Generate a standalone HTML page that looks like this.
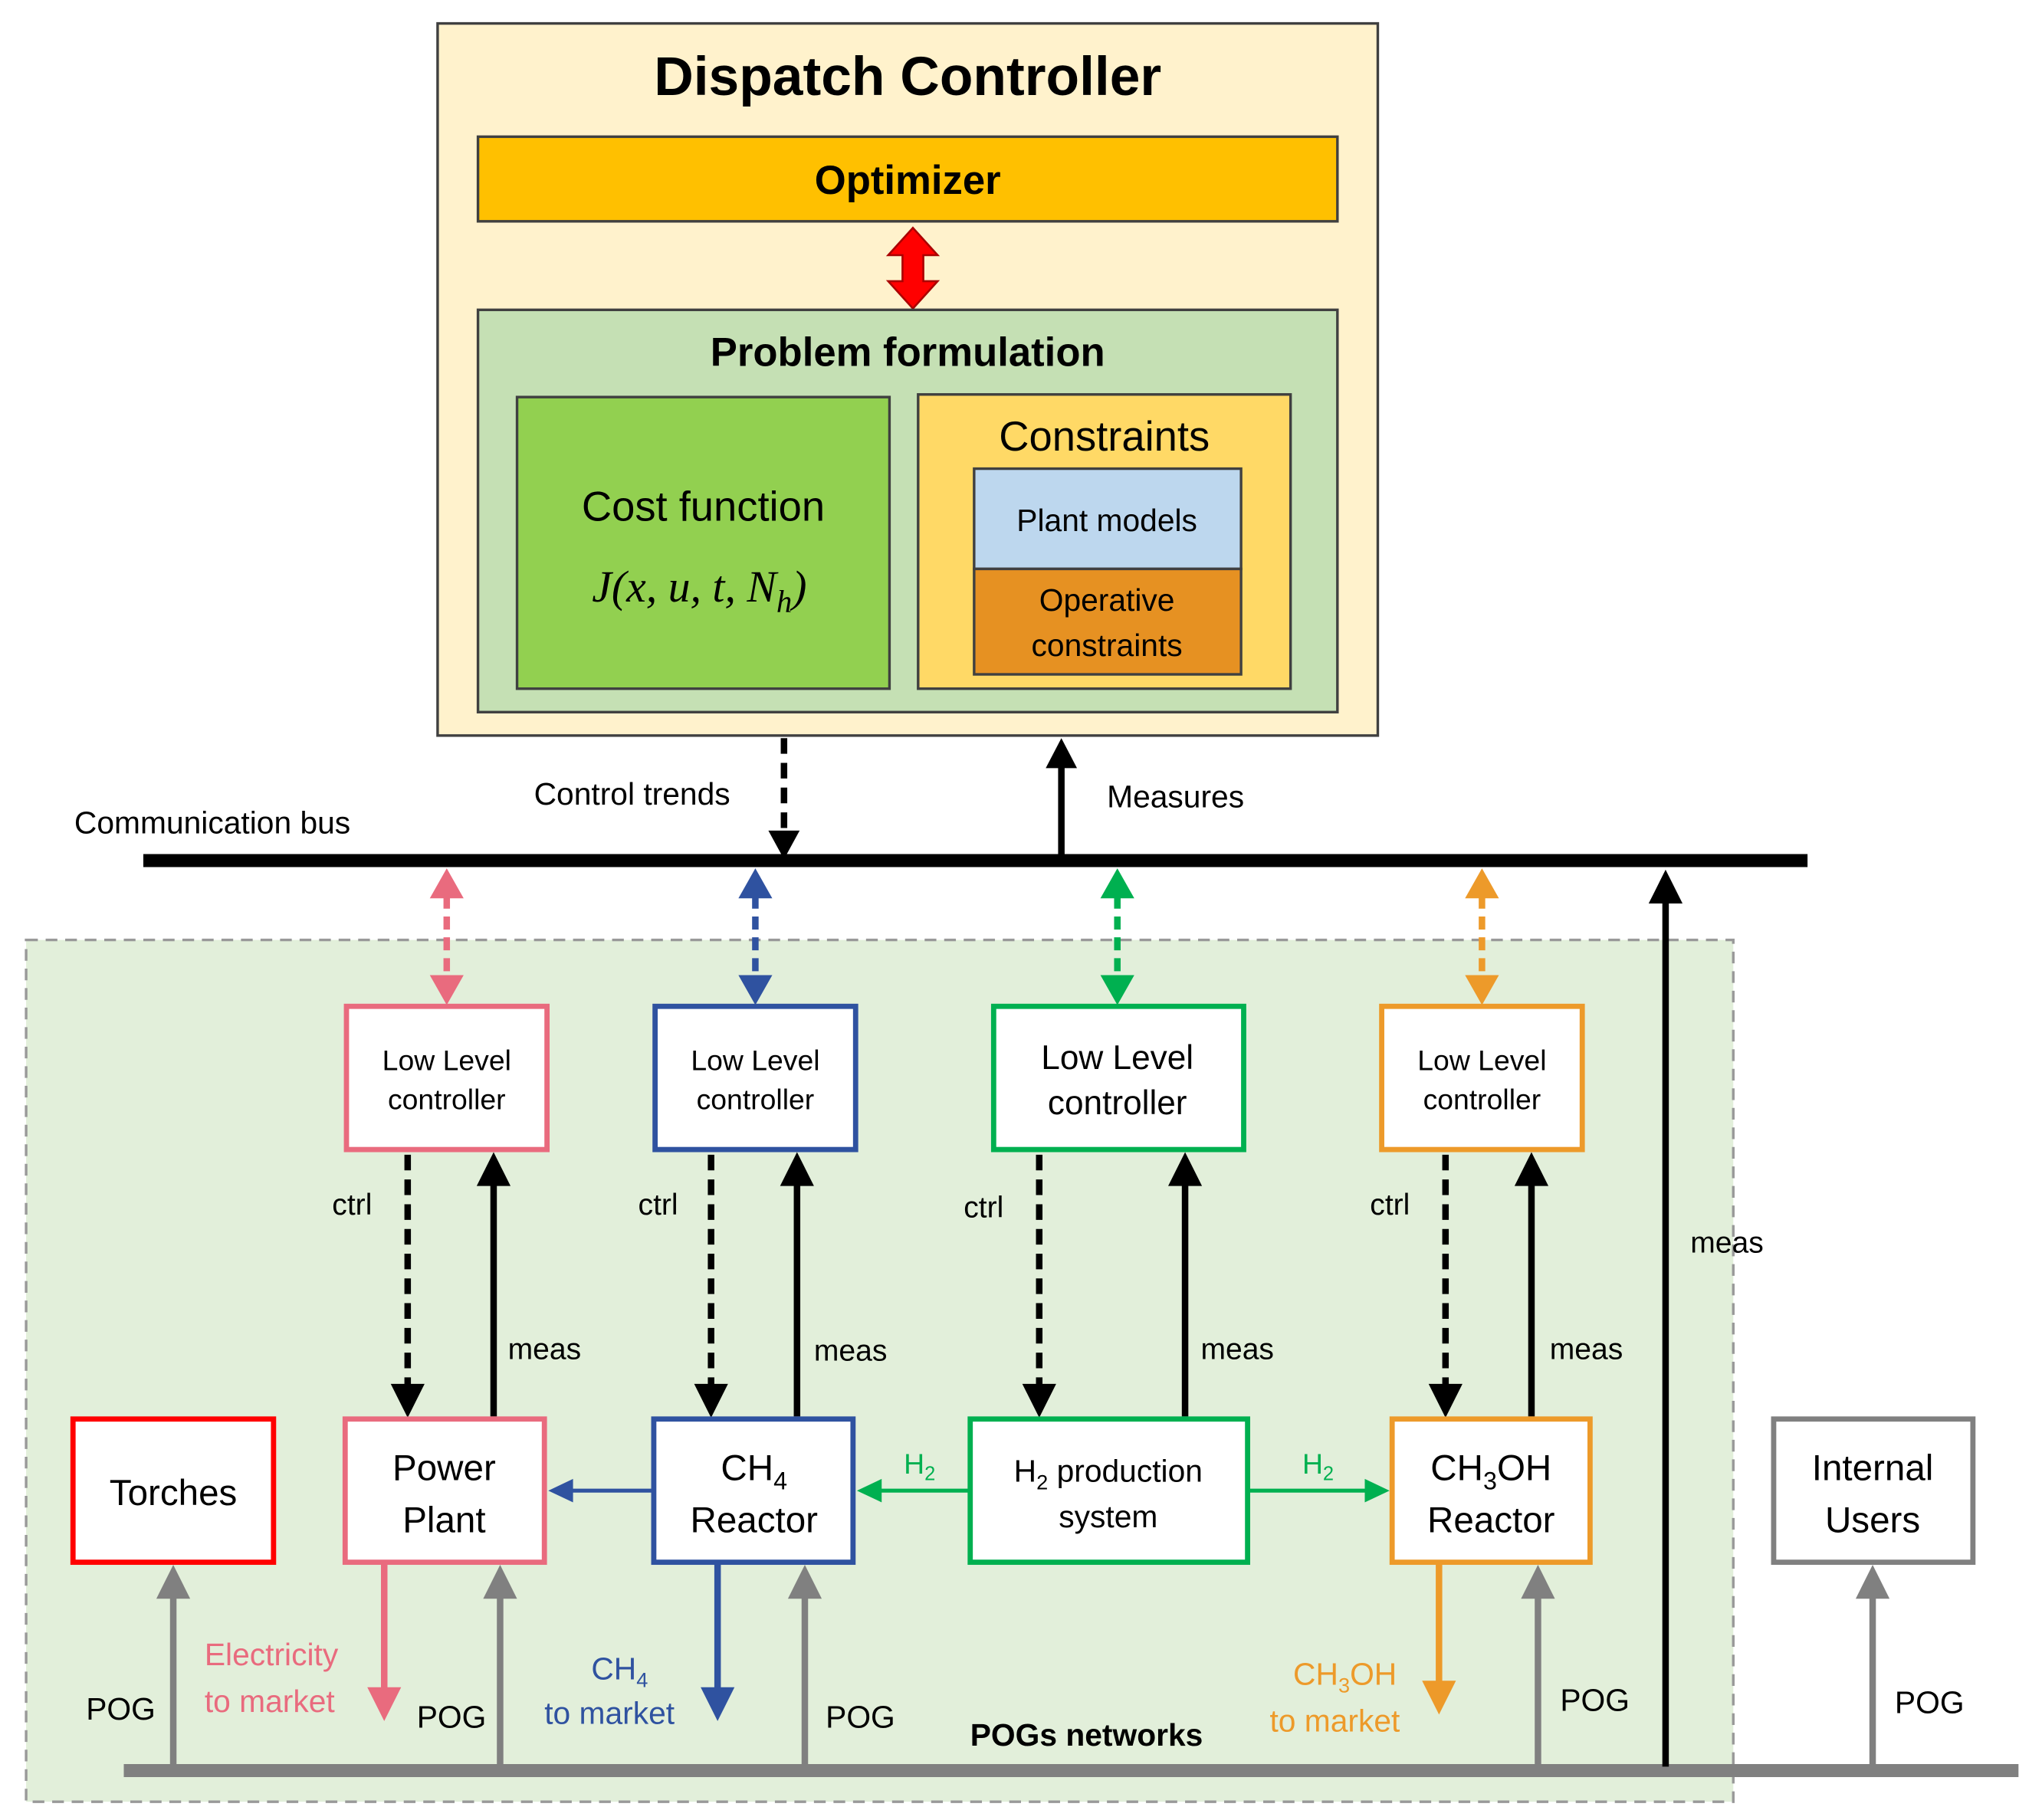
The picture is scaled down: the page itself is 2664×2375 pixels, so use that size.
<!DOCTYPE html>
<html><head><meta charset="utf-8"><style>html,body{margin:0;padding:0;background:#fff}svg{display:block}text{font-family:"Liberation Sans",sans-serif}</style></head>
<body>
<svg width="2664" height="2375" viewBox="0 0 1568 1398" xmlns="http://www.w3.org/2000/svg">
<defs>
<marker id="ak" markerWidth="4" markerHeight="4" refX="2" refY="2" orient="auto" markerUnits="strokeWidth"><path d="M0,0.3 L4,2 L0,3.7z" fill="#000"/></marker>
</defs>
<rect width="1568" height="1398" fill="#fff"/>
<!-- Dispatch controller -->
<rect x="336" y="18" width="722" height="547" fill="#fff2cc" stroke="#404040" stroke-width="2"/>
<text x="697" y="73" font-size="42" font-weight="bold" text-anchor="middle">Dispatch Controller</text>
<rect x="367" y="105" width="660" height="65" fill="#ffc000" stroke="#404040" stroke-width="2"/>
<text x="697" y="149" font-size="31" font-weight="bold" text-anchor="middle">Optimizer</text>
<path d="M701,175 L720,196 L709,196 L709,216 L720,216 L701,237 L682,216 L693,216 L693,196 L682,196 Z" fill="#ff0000" stroke="#a00" stroke-width="1.5"/>
<rect x="367" y="238" width="660" height="309" fill="#c5e0b4" stroke="#404040" stroke-width="2"/>
<text x="697" y="281" font-size="31" font-weight="bold" text-anchor="middle">Problem formulation</text>
<rect x="397" y="305" width="286" height="224" fill="#92d050" stroke="#404040" stroke-width="2"/>
<text x="540" y="400" font-size="32" text-anchor="middle">Cost function</text>
<text x="537" y="462" font-size="34" font-style="italic" text-anchor="middle" font-family="Liberation Serif,serif" style="font-family:'Liberation Serif',serif">J(x, u, t, N<tspan font-size="24" dy="8">h</tspan><tspan dy="-8">)</tspan></text>
<rect x="705" y="303" width="286" height="226" fill="#ffd966" stroke="#404040" stroke-width="2"/>
<text x="848" y="346" font-size="32" text-anchor="middle">Constraints</text>
<rect x="748" y="360" width="205" height="77" fill="#bdd7ee" stroke="#404040" stroke-width="2"/>
<text x="850" y="408" font-size="24" text-anchor="middle">Plant models</text>
<rect x="748" y="437" width="205" height="81" fill="#e69122" stroke="#404040" stroke-width="2"/>
<text x="850" y="469" font-size="24" text-anchor="middle">Operative</text>
<text x="850" y="504" font-size="24" text-anchor="middle">constraints</text>
<!-- bus arrows -->
<line x1="602" y1="567" x2="602" y2="640" stroke="#000" stroke-width="5" stroke-dasharray="12,7"/>
<path d="M590,638 L614,638 L602,660 Z" fill="#000"/>
<line x1="815" y1="660" x2="815" y2="588" stroke="#000" stroke-width="5"/>
<path d="M803,590 L827,590 L815,567 Z" fill="#000"/>
<text x="410" y="618" font-size="24">Control trends</text>
<text x="850" y="620" font-size="24">Measures</text>
<text x="57" y="640" font-size="24">Communication bus</text>
<!-- region -->
<rect x="20" y="722" width="1311" height="662" fill="#e2efda" stroke="#999" stroke-width="2" stroke-dasharray="9,6"/>
<line x1="110" y1="661" x2="1388" y2="661" stroke="#000" stroke-width="10"/>
<!-- colored double arrows -->
<g stroke-width="5" stroke-dasharray="10,6">
<line x1="343" y1="688" x2="343" y2="750" stroke="#e96b7e"/>
<line x1="580" y1="688" x2="580" y2="750" stroke="#2f52a0"/>
<line x1="858" y1="688" x2="858" y2="750" stroke="#00b050"/>
<line x1="1138" y1="688" x2="1138" y2="750" stroke="#ed9a2a"/>
</g>
<path d="M343,667 L356,690 L330,690Z M343,772 L356,749 L330,749Z" fill="#e96b7e"/>
<path d="M580,667 L593,690 L567,690Z M580,772 L593,749 L567,749Z" fill="#2f52a0"/>
<path d="M858,667 L871,690 L845,690Z M858,772 L871,749 L845,749Z" fill="#00b050"/>
<path d="M1138,667 L1151,690 L1125,690Z M1138,772 L1151,749 L1125,749Z" fill="#ed9a2a"/>
<!-- low level boxes -->
<g fill="#fff" stroke-width="4">
<rect x="266" y="773" width="154" height="110" stroke="#e96b7e"/>
<rect x="503" y="773" width="154" height="110" stroke="#2f52a0"/>
<rect x="763" y="773" width="192" height="110" stroke="#00b050"/>
<rect x="1061" y="773" width="154" height="110" stroke="#ed9a2a"/>
</g>
<g font-size="22" text-anchor="middle">
<text x="343" y="822">Low Level</text><text x="343" y="852">controller</text>
<text x="580" y="822">Low Level</text><text x="580" y="852">controller</text>
<text x="858" y="821" font-size="26">Low Level</text><text x="858" y="856" font-size="26">controller</text>
<text x="1138" y="822">Low Level</text><text x="1138" y="852">controller</text>
</g>
<!-- ctrl / meas arrows -->
<g stroke="#000" stroke-width="5">
<line x1="313" y1="887" x2="313" y2="1065" stroke-dasharray="12,7"/>
<line x1="546" y1="887" x2="546" y2="1065" stroke-dasharray="12,7"/>
<line x1="798" y1="887" x2="798" y2="1065" stroke-dasharray="12,7"/>
<line x1="1110" y1="887" x2="1110" y2="1065" stroke-dasharray="12,7"/>
<line x1="379" y1="1088" x2="379" y2="908"/>
<line x1="612" y1="1088" x2="612" y2="908"/>
<line x1="910" y1="1088" x2="910" y2="908"/>
<line x1="1176" y1="1088" x2="1176" y2="908"/>
</g>
<g fill="#000">
<path d="M300,1063 L326,1063 L313,1089Z"/><path d="M533,1063 L559,1063 L546,1089Z"/>
<path d="M785,1063 L811,1063 L798,1089Z"/><path d="M1097,1063 L1123,1063 L1110,1089Z"/>
<path d="M366,911 L392,911 L379,885Z"/><path d="M599,911 L625,911 L612,885Z"/>
<path d="M897,911 L923,911 L910,885Z"/><path d="M1163,911 L1189,911 L1176,885Z"/>
</g>
<g font-size="23">
<text x="255" y="933">ctrl</text><text x="490" y="933">ctrl</text><text x="740" y="935">ctrl</text><text x="1052" y="933">ctrl</text>
<text x="390" y="1044">meas</text><text x="625" y="1045">meas</text><text x="922" y="1044">meas</text><text x="1190" y="1044">meas</text>
<text x="1298" y="962">meas</text>
</g>
<!-- POG line -->
<line x1="95" y1="1360" x2="1550" y2="1360" stroke="#808080" stroke-width="10"/>
<!-- meas black long -->
<line x1="1279" y1="1357" x2="1279" y2="690" stroke="#000" stroke-width="5"/>
<path d="M1266,694 L1292,694 L1279,668Z" fill="#000"/>
<!-- gray up arrows -->
<g stroke="#808080" stroke-width="5">
<line x1="133" y1="1357" x2="133" y2="1222"/><line x1="384" y1="1357" x2="384" y2="1222"/>
<line x1="618" y1="1357" x2="618" y2="1222"/><line x1="1181" y1="1357" x2="1181" y2="1222"/>
<line x1="1438" y1="1357" x2="1438" y2="1222"/>
</g>
<g fill="#808080">
<path d="M120,1228 L146,1228 L133,1202Z"/><path d="M371,1228 L397,1228 L384,1202Z"/>
<path d="M605,1228 L631,1228 L618,1202Z"/><path d="M1168,1228 L1194,1228 L1181,1202Z"/>
<path d="M1425,1228 L1451,1228 L1438,1202Z"/>
</g>
<!-- bottom boxes -->
<g fill="#fff" stroke-width="4">
<rect x="56" y="1090" width="154" height="110" stroke="#ff0000"/>
<rect x="265" y="1090" width="153" height="110" stroke="#e96b7e"/>
<rect x="502" y="1090" width="153" height="110" stroke="#2f52a0"/>
<rect x="745" y="1090" width="213" height="110" stroke="#00b050"/>
<rect x="1069" y="1090" width="152" height="110" stroke="#ed9a2a"/>
<rect x="1362" y="1090" width="153" height="110" stroke="#808080"/>
</g>
<g font-size="28" text-anchor="middle">
<text x="133" y="1156">Torches</text>
<text x="341" y="1137">Power</text><text x="341" y="1177">Plant</text>
<text x="579" y="1137">CH<tspan font-size="19" dy="7">4</tspan></text><text x="579" y="1177">Reactor</text>
<text x="1145" y="1137">CH<tspan font-size="19" dy="7">3</tspan><tspan dy="-7">OH</tspan></text><text x="1145" y="1177">Reactor</text>
<text x="1438" y="1137">Internal</text><text x="1438" y="1177">Users</text>
<text x="851" y="1138" font-size="24">H<tspan font-size="16" dy="6">2</tspan><tspan dy="-6"> production</tspan></text>
<text x="851" y="1173" font-size="24">system</text>
</g>
<!-- horizontal arrows -->
<line x1="500" y1="1145" x2="438" y2="1145" stroke="#2f52a0" stroke-width="3"/>
<path d="M440,1136 L440,1154 L421,1145Z" fill="#2f52a0"/>
<line x1="745" y1="1145" x2="675" y2="1145" stroke="#00b050" stroke-width="3"/>
<path d="M677,1136 L677,1154 L658,1145Z" fill="#00b050"/>
<line x1="958" y1="1145" x2="1050" y2="1145" stroke="#00b050" stroke-width="3"/>
<path d="M1048,1136 L1048,1154 L1067,1145Z" fill="#00b050"/>
<text x="694" y="1132" font-size="22" fill="#00b050">H<tspan font-size="15" dy="5">2</tspan></text>
<text x="1000" y="1132" font-size="22" fill="#00b050">H<tspan font-size="15" dy="5">2</tspan></text>
<!-- colored down arrows -->
<line x1="295" y1="1202" x2="295" y2="1298" stroke="#e96b7e" stroke-width="5"/>
<path d="M282,1296 L308,1296 L295,1322Z" fill="#e96b7e"/>
<line x1="551" y1="1202" x2="551" y2="1298" stroke="#2f52a0" stroke-width="5"/>
<path d="M538,1296 L564,1296 L551,1322Z" fill="#2f52a0"/>
<line x1="1105" y1="1202" x2="1105" y2="1293" stroke="#ed9a2a" stroke-width="5"/>
<path d="M1092,1291 L1118,1291 L1105,1317Z" fill="#ed9a2a"/>
<g font-size="24">
<text x="157" y="1279" fill="#e96b7e">Electricity</text><text x="157" y="1315" fill="#e96b7e">to market</text>
<text x="454" y="1290" fill="#2f52a0">CH<tspan font-size="16" dy="6">4</tspan></text><text x="418" y="1324" fill="#2f52a0">to market</text>
<text x="993" y="1294" fill="#ed9a2a">CH<tspan font-size="16" dy="6">3</tspan><tspan dy="-6">OH</tspan></text><text x="975" y="1330" fill="#ed9a2a">to market</text>
<text x="66" y="1321">POG</text><text x="320" y="1327">POG</text><text x="634" y="1327">POG</text>
<text x="1198" y="1314">POG</text><text x="1455" y="1316">POG</text>
<text x="745" y="1341" font-weight="bold">POGs networks</text>
</g>
</svg>
</body></html>
